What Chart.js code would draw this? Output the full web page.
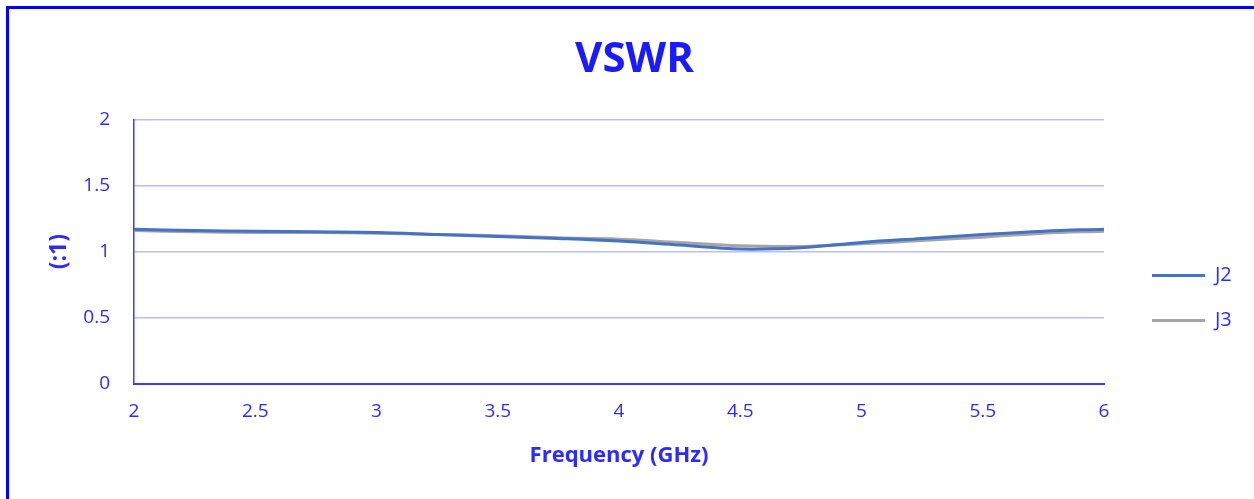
<!DOCTYPE html>
<html>
<head>
<meta charset="UTF-8">
<title>VSWR</title>
<script src="https://cdn.jsdelivr.net/npm/chart.js"></script>
<style>
    body { margin: 0; background: #fff; overflow: hidden; }
    #wrap { position: relative; width: 1254px; height: 499px; }
    /* blue frame, only top and left edges show in the picture */
    #frame {
        position: absolute; left: 6px; top: 6px;
        width: 1300px; height: 600px;
        border-left: 3px solid #0000ff; border-top: 3px solid #0000ff;
        pointer-events: none;
    }
</style>
</head>
<body>
<div id="wrap">
    <canvas id="vswrChart" width="1254" height="499"></canvas>
    <div id="frame"></div>
</div>

<script>
    // frequency points (GHz) and VSWR
    const freqs = [2, 2.25, 2.5, 2.75, 3, 3.25, 3.5, 3.75, 4, 4.25, 4.5, 4.75, 5, 5.25, 5.5, 5.75, 6];
    const j2 = [1.17, 1.16, 1.155, 1.15, 1.145, 1.13, 1.115, 1.10, 1.08, 1.05, 1.02, 1.03, 1.07, 1.10, 1.13, 1.155, 1.17];
    const j3 = [1.16, 1.15, 1.145, 1.145, 1.14, 1.13, 1.12, 1.105, 1.095, 1.07, 1.045, 1.04, 1.06, 1.085, 1.11, 1.14, 1.155];
    const seriesNames = ['J2', 'J3'];

    const blue = '#2b2bff';
    const font = "'Open Sans', sans-serif";

    function toPoints(vals) {
        return freqs.map((f, i) => ({ x: f, y: vals[i] }));
    }

    // nudge the legend a bit to the right of the plot, like the original
    const legendShift = {
        id: 'legendShift',
        afterLayout(chart) {
            if (chart.legend) {
                chart.legend.left += 23;
                chart.legend.right += 23;
            }
        }
    };

    const ctx = document.getElementById('vswrChart').getContext('2d');
    const vswrChart = new Chart(ctx, {
        type: 'line',
        data: {
            datasets: [{
                label: seriesNames[0],
                data: toPoints(j2),
                borderColor: '#4472c4',
                backgroundColor: '#4472c4',
                borderWidth: 3,
                pointRadius: 0,
                tension: 0.4
            }, {
                label: seriesNames[1],
                data: toPoints(j3),
                borderColor: '#a5a5a5',
                backgroundColor: '#a5a5a5',
                borderWidth: 3,
                pointRadius: 0,
                tension: 0.4
            }]
        },
        plugins: [legendShift],
        options: {
            responsive: false,
            animation: false,
            layout: { padding: { left: 10, right: -5, top: 0, bottom: 0 } },
            plugins: {
                title: {
                    display: true,
                    text: 'VSWR',
                    color: '#1a1aff',
                    font: { family: font, size: 42, weight: 'bold' },
                    padding: { top: 35, bottom: 34 }
                },
                legend: {
                    position: 'right',
                    align: 'start',
                    // empty title only pushes the entries down
                    title: { display: true, text: ' ', font: { size: 12 }, padding: { top: 226, bottom: 0 } },
                    labels: {
                        color: blue,
                        font: { family: font, size: 20 },
                        boxWidth: 53,
                        boxHeight: 3,
                        padding: 25,
                        generateLabels: function (chart) {
                            const items = Chart.defaults.plugins.legend.labels.generateLabels(chart);
                            items.forEach(it => { it.lineWidth = 0; });
                            return items;
                        }
                    }
                },
                tooltip: { enabled: false }
            },
            scales: {
                x: {
                    type: 'linear',
                    min: 2,
                    max: 6,
                    ticks: {
                        stepSize: 0.5,
                        color: blue,
                        font: { family: font, size: 19 },
                        padding: 16,
                        callback: v => String(v)
                    },
                    grid: { display: false, drawTicks: false },
                    border: { color: '#3c3cff', width: 2 },
                    title: {
                        display: true,
                        text: 'Frequency (GHz)',
                        color: blue,
                        font: { family: font, size: 22, weight: 'bold' },
                        padding: { top: 10, bottom: 30 }
                    },
                    afterFit: function (scale) {
                        scale.height = 115;
                        scale.paddingRight = 150;
                    }
                },
                y: {
                    min: 0,
                    max: 2,
                    ticks: {
                        stepSize: 0.5,
                        color: blue,
                        font: { family: font, size: 19 },
                        padding: 24,
                        callback: v => String(v)
                    },
                    grid: { color: '#bcbcff', lineWidth: 1.5, drawTicks: false },
                    border: { color: '#3c3cff', width: 1.5 },
                    title: {
                        display: true,
                        text: '(:1)',
                        color: blue,
                        font: { family: font, size: 23, weight: 'bold' },
                        padding: { top: 36, bottom: 0 }
                    },
                    afterFit: function (scale) {
                        scale.width = 124;
                    }
                }
            }
        }
    });
</script>
</body>
</html>
